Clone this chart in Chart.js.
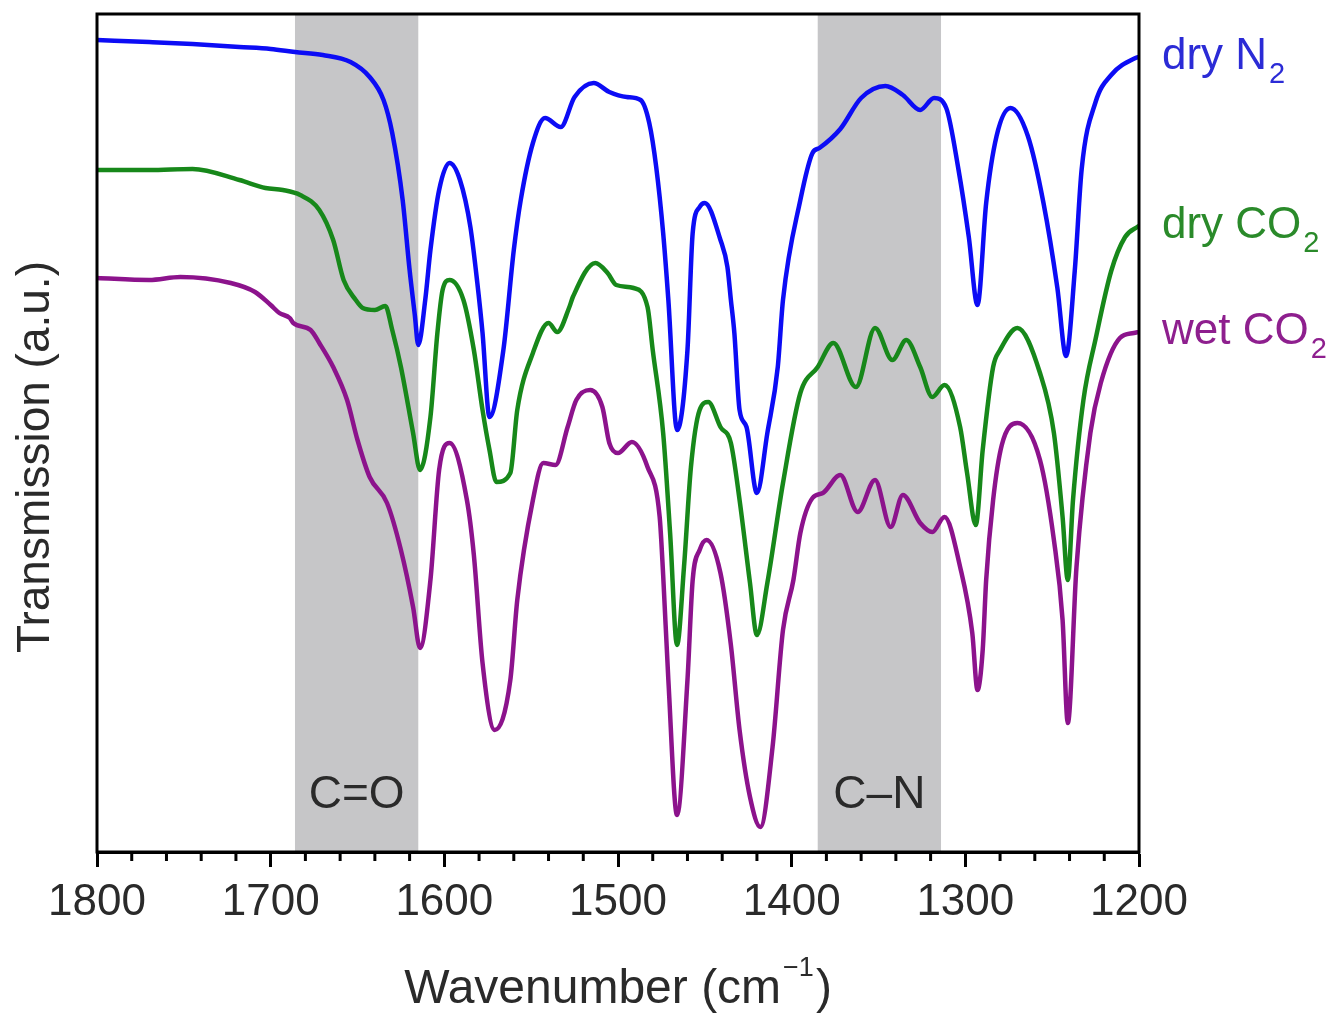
<!DOCTYPE html>
<html>
<head>
<meta charset="utf-8">
<script src="https://cdn.jsdelivr.net/npm/chart.js@4.4.1/dist/chart.umd.min.js"></script>
<style>
  html, body { margin: 0; padding: 0; background: #fff; }
</style>
</head>
<body>
<canvas id="irChart" width="1332" height="1019"></canvas>
<script>
// wavenumbers (cm-1) and transmission (a.u., offset traces)
const n2Wave = [1800,1770,1745,1718,1700,1686,1670,1654,1643,1635,1630,1624,1620,1617,1615,1611,1608,1603,1597,1591,1585,1581,1578,1574,1566,1560,1556,1549,1542,1533,1525,1514,1505,1495,1487,1482,1478,1474,1471,1466,1460,1457,1453,1450,1441,1437,1435,1433,1430,1426,1420,1414,1408,1405,1395,1388,1384,1372,1360,1346,1336,1326,1318,1311,1304,1298,1293,1288,1282,1274,1264,1255,1247,1242,1237,1233,1225,1216,1202,1200];
const n2Trans = [81.2,81.0,80.8,80.5,80.3,80.0,79.7,79.0,77.5,75.2,71.9,65.2,58.2,53.7,50.7,55.2,60.2,66.2,68.9,67.2,62.5,56.9,51.9,43.5,50.2,60.2,65.2,70.9,73.4,72.5,75.5,76.9,76.0,75.5,75.2,72.9,68.5,61.9,55.2,42.2,50.2,61.9,64.5,64.9,61.2,58.5,55.2,51.9,44.2,42.5,35.9,41.9,48.5,55.2,65.2,69.9,70.4,72.3,75.4,76.6,75.7,74.2,75.4,74.4,68.3,61.5,54.7,64.9,71.6,74.4,71.6,64.9,56.4,49.6,58.1,68.3,75.0,77.7,79.4,79.5];

const dryCo2Wave = [1800,1770,1745,1718,1703,1693,1683,1672,1664,1658,1651,1647,1640,1634,1630,1625,1618,1614,1608,1604,1601,1597,1589,1583,1578,1574,1570,1562,1558,1549,1540,1535,1528,1526,1513,1506,1501,1491,1483,1480,1474,1470,1466,1462,1458,1453,1448,1441,1435,1430,1424,1420,1414,1405,1395,1385,1376,1363,1352,1342,1334,1326,1319,1312,1303,1299,1294,1290,1284,1280,1270,1257,1249,1244,1241,1238,1232,1225,1216,1208,1201,1200];
const dryCo2Trans = [68.2,68.2,68.3,67.2,66.4,66.2,65.7,64.2,61.2,57.2,55.2,54.4,54.2,54.6,52.2,48.5,41.9,38.2,43.5,51.9,56.2,57.2,55.2,50.2,44.2,40.2,37.0,37.9,44.2,49.9,52.9,52.0,54.5,55.5,58.9,57.9,56.7,56.4,54.5,50.2,41.9,31.9,20.7,28.5,38.5,44.2,45.0,42.5,40.9,35.2,26.9,21.7,26.9,36.9,45.9,48.5,50.9,46.5,52.4,49.2,51.2,48.5,45.5,46.7,42.5,37.9,32.7,40.2,48.5,50.2,52.4,47.9,41.9,33.5,27.2,35.2,45.2,51.3,58.1,61.5,62.5,62.6];

const wetCo2Wave = [1800,1770,1752,1723,1709,1700,1695,1689,1687,1677,1672,1664,1656,1650,1643,1633,1625,1618,1614,1608,1603,1597,1587,1583,1578,1571,1562,1558,1549,1543,1536,1529,1524,1516,1509,1505,1500,1492,1483,1476,1474,1471,1466,1460,1457,1453,1449,1441,1435,1430,1424,1418,1411,1405,1399,1395,1388,1382,1372,1362,1352,1343,1336,1326,1319,1312,1303,1296,1293,1290,1288,1284,1279,1270,1257,1249,1244,1241,1236,1228,1222,1211,1203,1200];
const wetCo2Trans = [57.4,57.2,57.5,56.9,56.0,54.7,53.9,53.4,52.9,52.2,50.9,48.5,45.2,41.2,37.5,34.9,30.2,24.5,20.4,27.2,38.2,40.9,35.2,29.7,18.9,12.2,17.2,25.2,35.2,38.9,38.7,42.5,45.2,46.2,44.5,40.9,39.9,41.0,38.5,33.5,27.7,17.2,3.7,17.2,27.2,30.2,31.2,27.9,20.7,12.2,5.5,2.5,10.5,22.2,27.2,31.9,35.4,35.9,37.7,34.0,37.2,32.5,35.7,32.9,32.0,33.5,28.5,21.9,16.2,20.2,27.2,35.2,40.7,42.9,39.2,31.2,23.2,12.9,28.5,41.9,46.9,51.4,51.9,52.0];

const seriesNames = [['dry N', '2'], ['dry CO', '2'], ['wet CO', '2']];
const lineColors = ['#0c0cf5', '#17881a', '#8c138c'];
const labelColors = ['#2b2bd6', '#2a8a2a', '#8e1f8e'];

// shaded assignment regions (cm-1)
const bandRanges = [[1686, 1615], [1385, 1314]];
const bandLabels = ['C=O', 'C\u2013N'];

const xTickValues = [1800, 1700, 1600, 1500, 1400, 1300, 1200];
const xTickLabels = ['1800', '1700', '1600', '1500', '1400', '1300', '1200'];

const FONT = "'Liberation Sans', Arial, sans-serif";

function toPoints(wave, trans) {
  return wave.map((w, i) => ({ x: w, y: trans[i] }));
}

const decorPlugin = {
  id: 'decor',
  beforeDatasetsDraw(chart) {
    const { ctx, chartArea: a, scales: { x } } = chart;
    ctx.save();
    bandRanges.forEach(([from, to], i) => {
      const x1 = x.getPixelForValue(from);
      const x2 = x.getPixelForValue(to);
      ctx.fillStyle = '#c6c6c8';
      ctx.fillRect(Math.min(x1, x2), a.top, Math.abs(x2 - x1), a.bottom - a.top);
      ctx.fillStyle = '#2a2a2a';
      ctx.font = '46px ' + FONT;
      ctx.textAlign = 'center';
      ctx.textBaseline = 'middle';
      ctx.fillText(bandLabels[i], (x1 + x2) / 2, a.bottom - 57);
    });
    ctx.restore();
  },
  afterDraw(chart) {
    const { ctx, chartArea: a, scales: { x, y } } = chart;
    ctx.save();

    // frame
    ctx.strokeStyle = '#000';
    ctx.lineWidth = 3;
    ctx.strokeRect(a.left, a.top, a.right - a.left, a.bottom - a.top);

    // minor ticks every 20 cm-1
    for (let v = 1200; v <= 1800; v += 20) {
      if (v % 100 === 0) continue;
      const px = x.getPixelForValue(v);
      ctx.beginPath();
      ctx.moveTo(px, a.bottom);
      ctx.lineTo(px, a.bottom + 9);
      ctx.stroke();
    }

    // series names at the right-hand end of each trace
    chart.data.datasets.forEach((ds, i) => {
      const last = ds.data[ds.data.length - 1];
      const py = y.getPixelForValue(last.y);
      const px = a.right + 23;
      ctx.fillStyle = labelColors[i];
      ctx.textAlign = 'left';
      ctx.textBaseline = 'middle';
      ctx.font = '44px ' + FONT;
      ctx.fillText(seriesNames[i][0], px, py);
      const w = ctx.measureText(seriesNames[i][0]).width;
      ctx.font = '29px ' + FONT;
      ctx.fillText(seriesNames[i][1], px + w + 2, py + 18);
    });

    // y title
    ctx.fillStyle = '#2a2a2a';
    ctx.font = '46px ' + FONT;
    ctx.textAlign = 'center';
    ctx.textBaseline = 'middle';
    ctx.translate(36, 457);
    ctx.rotate(-Math.PI / 2);
    ctx.fillText('Transmission (a.u.)', 0, 0);
    ctx.setTransform(1, 0, 0, 1, 0, 0);

    // x title with superscript
    const main = 'Wavenumber (cm';
    ctx.font = '48px ' + FONT;
    const wMain = ctx.measureText(main).width;
    ctx.font = '27px ' + FONT;
    const wSup = ctx.measureText('\u2212' + '1').width;
    ctx.font = '48px ' + FONT;
    const wEnd = ctx.measureText(')').width;
    const total = wMain + wSup + wEnd + 4;
    const tx = (a.left + a.right) / 2 - total / 2;
    const ty = 990;
    ctx.textAlign = 'left';
    ctx.fillText(main, tx, ty);
    ctx.font = '27px ' + FONT;
    ctx.fillText('\u2212' + '1', tx + wMain + 2, ty - 21);
    ctx.font = '48px ' + FONT;
    ctx.fillText(')', tx + wMain + wSup + 4, ty);

    ctx.restore();
  }
};

new Chart(document.getElementById('irChart'), {
  type: 'line',
  data: {
    datasets: [
      { label: 'dry N2', data: toPoints(n2Wave, n2Trans) },
      { label: 'dry CO2', data: toPoints(dryCo2Wave, dryCo2Trans) },
      { label: 'wet CO2', data: toPoints(wetCo2Wave, wetCo2Trans) }
    ].map((ds, i) => Object.assign(ds, {
      borderColor: lineColors[i],
      borderWidth: 4.5,
      pointRadius: 0,
      fill: false,
      cubicInterpolationMode: 'monotone'
    }))
  },
  options: {
    responsive: false,
    animation: false,
    layout: { padding: { left: 97, right: 193, top: 14, bottom: 0 } },
    plugins: {
      legend: { display: false },
      tooltip: { enabled: false }
    },
    scales: {
      x: {
        type: 'linear',
        min: 1200,
        max: 1800,
        reverse: true,
        afterFit: function(scale) { scale.height = 167; },
        afterBuildTicks: function(scale) {
          scale.ticks = xTickValues.map(v => ({ value: v }));
        },
        grid: {
          display: true,
          drawOnChartArea: false,
          drawTicks: true,
          tickLength: 15,
          tickWidth: 3,
          tickColor: '#000'
        },
        border: { display: true, color: '#000', width: 3 },
        ticks: {
          autoSkip: false,
          maxRotation: 0,
          padding: 9,
          color: '#2a2a2a',
          font: { size: 44, family: FONT },
          callback: function(value) {
            const i = xTickValues.indexOf(value);
            return i >= 0 ? xTickLabels[i] : '';
          }
        }
      },
      y: {
        display: false,
        min: 0,
        max: 83.8
      }
    }
  },
  plugins: [decorPlugin]
});
</script>
</body>
</html>
